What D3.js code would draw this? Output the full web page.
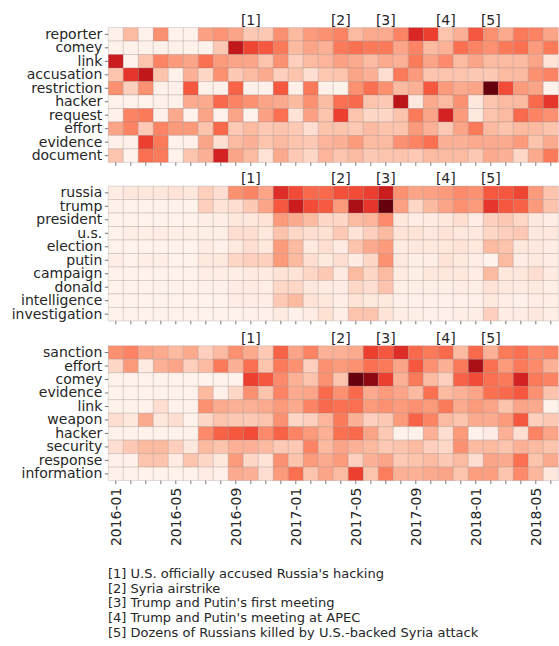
<!DOCTYPE html>
<html><head><meta charset="utf-8">
<script src="https://cdn.jsdelivr.net/npm/d3@7"></script>
<style>body{margin:0;background:#fff}svg{display:block}text{font-family:"DejaVu Sans",sans-serif;fill:#262626}</style>
</head><body><svg id="c" width="559" height="646"></svg>
<script>
const months = ["2016-01","2016-02","2016-03","2016-04","2016-05","2016-06","2016-07","2016-08","2016-09","2016-10","2016-11","2016-12",
"2017-01","2017-02","2017-03","2017-04","2017-05","2017-06","2017-07","2017-08","2017-09","2017-10","2017-11","2017-12",
"2018-01","2018-02","2018-03","2018-04","2018-05","2018-06"];
const tickLabels = ["2016-01","2016-05","2016-09","2017-01","2017-05","2017-09","2018-01","2018-05"];

const rows1 = ["reporter","comey","link","accusation","restriction","hacker","request","effort","evidence","document"];
const values1 = [
[0.03,0.25,0.02,0.38,0.02,0.02,0.33,0.37,0.32,0.2,0.2,0.38,0.25,0.35,0.38, 0.42,0.25,0.3,0.3,0.42,0.7,0.62,0.22,0.28,0.55,0.38,0.3,0.45,0.42,0.32],
[0.02,0.02,0.02,0.03,0.03,0.02,0.02,0.2,0.78,0.6,0.55,0.45,0.25,0.32,0.28, 0.45,0.48,0.45,0.45,0.32,0.42,0.25,0.28,0.48,0.42,0.38,0.45,0.48,0.35,0.45],
[0.75,0.02,0.22,0.42,0.35,0.32,0.48,0.35,0.32,0.32,0.22,0.38,0.18,0.25,0.27, 0.33,0.3,0.25,0.3,0.28,0.45,0.32,0.4,0.25,0.32,0.25,0.25,0.25,0.32,0.1],
[0.22,0.65,0.78,0.22,0.03,0.28,0.15,0.38,0.2,0.25,0.3,0.18,0.22,0.12,0.21, 0.22,0.32,0.28,0.12,0.45,0.35,0.22,0.22,0.22,0.2,0.2,0.25,0.25,0.38,0.42],
[0.38,0.18,0.38,0.03,0.03,0.55,0.03,0.03,0.52,0.03,0.03,0.55,0.03,0.45,0.03, 0.02,0.38,0.48,0.38,0.25,0.28,0.55,0.35,0.3,0.32,1.0,0.58,0.35,0.32,0.02],
[0.02,0.02,0.02,0.03,0.03,0.3,0.3,0.5,0.42,0.38,0.32,0.3,0.25,0.38,0.24, 0.48,0.5,0.22,0.2,0.8,0.08,0.3,0.25,0.38,0.08,0.22,0.25,0.25,0.5,0.65],
[0.03,0.42,0.45,0.03,0.3,0.02,0.32,0.02,0.32,0.02,0.33,0.48,0.1,0.33,0.22, 0.62,0.22,0.15,0.15,0.22,0.45,0.32,0.72,0.35,0.07,0.22,0.25,0.5,0.42,0.38],
[0.32,0.42,0.2,0.42,0.35,0.35,0.22,0.5,0.2,0.25,0.2,0.22,0.2,0.12,0.22, 0.22,0.2,0.25,0.22,0.22,0.35,0.28,0.2,0.32,0.45,0.25,0.22,0.25,0.25,0.22],
[0.03,0.03,0.62,0.45,0.02,0.03,0.32,0.12,0.25,0.28,0.22,0.25,0.22,0.2,0.27, 0.28,0.35,0.25,0.25,0.38,0.42,0.48,0.28,0.28,0.3,0.3,0.3,0.35,0.22,0.3],
[0.22,0.02,0.48,0.45,0.02,0.22,0.28,0.72,0.32,0.25,0.1,0.3,0.2,0.15,0.27, 0.22,0.25,0.2,0.22,0.22,0.2,0.25,0.25,0.25,0.2,0.3,0.28,0.15,0.3,0.45]
];

const rows2 = ["russia","trump","president","u.s.","election","putin","campaign","donald","intelligence","investigation"];
const values2 = [
[0.05,0.08,0.08,0.08,0.1,0.08,0.18,0.12,0.38,0.42,0.32,0.68,0.58,0.5,0.5, 0.57,0.58,0.62,0.75,0.38,0.32,0.33,0.35,0.4,0.38,0.55,0.55,0.6,0.35,0.22],
[0.03,0.02,0.02,0.02,0.02,0.02,0.18,0.1,0.12,0.2,0.32,0.55,0.75,0.58,0.54, 0.35,0.85,0.65,1.0,0.33,0.15,0.25,0.32,0.38,0.35,0.65,0.55,0.52,0.35,0.22],
[0.02,0.02,0.02,0.02,0.02,0.02,0.04,0.04,0.08,0.08,0.1,0.35,0.3,0.25,0.15, 0.15,0.25,0.27,0.4,0.08,0.05,0.06,0.08,0.12,0.05,0.18,0.2,0.15,0.08,0.05],
[0.02,0.04,0.04,0.05,0.04,0.04,0.04,0.04,0.12,0.12,0.08,0.22,0.15,0.12,0.11, 0.2,0.1,0.18,0.25,0.1,0.1,0.08,0.1,0.08,0.08,0.15,0.18,0.2,0.08,0.08],
[0.02,0.02,0.02,0.02,0.02,0.02,0.05,0.03,0.07,0.12,0.08,0.35,0.25,0.07,0.12, 0.06,0.22,0.3,0.35,0.06,0.08,0.08,0.08,0.1,0.08,0.25,0.22,0.08,0.08,0.05],
[0.04,0.02,0.04,0.04,0.02,0.02,0.07,0.07,0.15,0.18,0.18,0.35,0.25,0.12,0.07, 0.12,0.06,0.15,0.38,0.07,0.04,0.04,0.1,0.07,0.04,0.02,0.25,0.05,0.07,0.05],
[0.02,0.02,0.02,0.02,0.02,0.02,0.04,0.04,0.04,0.06,0.06,0.1,0.1,0.15,0.2, 0.06,0.25,0.15,0.25,0.06,0.04,0.08,0.08,0.08,0.05,0.25,0.08,0.08,0.12,0.06],
[0.02,0.02,0.02,0.02,0.02,0.02,0.03,0.03,0.05,0.06,0.04,0.15,0.15,0.08,0.06, 0.05,0.15,0.12,0.22,0.04,0.04,0.04,0.04,0.05,0.04,0.1,0.07,0.06,0.07,0.04],
[0.02,0.02,0.02,0.02,0.02,0.02,0.02,0.02,0.05,0.05,0.04,0.2,0.25,0.1,0.08, 0.04,0.1,0.07,0.07,0.03,0.03,0.03,0.03,0.03,0.03,0.07,0.04,0.03,0.05,0.04],
[0.02,0.02,0.02,0.02,0.02,0.02,0.02,0.02,0.02,0.03,0.03,0.06,0.03,0.05,0.11, 0.04,0.22,0.22,0.1,0.04,0.04,0.03,0.03,0.04,0.04,0.18,0.05,0.05,0.08,0.04]
];

const rows3 = ["sanction","effort","comey","evidence","link","weapon","hacker","security","response","information"];
const values3 = [
[0.38,0.42,0.32,0.3,0.25,0.3,0.18,0.25,0.38,0.3,0.2,0.52,0.32,0.42,0.28, 0.28,0.3,0.62,0.55,0.68,0.5,0.45,0.5,0.25,0.5,0.28,0.45,0.48,0.4,0.42],
[0.15,0.35,0.06,0.28,0.32,0.18,0.25,0.45,0.28,0.48,0.22,0.45,0.38,0.18,0.38, 0.35,0.38,0.48,0.45,0.32,0.55,0.38,0.28,0.45,0.85,0.48,0.35,0.45,0.4,0.28],
[0.02,0.02,0.02,0.02,0.02,0.02,0.02,0.02,0.02,0.62,0.55,0.4,0.28,0.22,0.38, 0.22,1.0,0.92,0.62,0.28,0.45,0.25,0.18,0.52,0.58,0.48,0.45,0.72,0.45,0.42],
[0.02,0.02,0.02,0.02,0.02,0.02,0.25,0.03,0.15,0.38,0.22,0.42,0.3,0.32,0.5, 0.38,0.5,0.3,0.35,0.32,0.25,0.48,0.25,0.28,0.32,0.48,0.5,0.55,0.38,0.22],
[0.02,0.02,0.02,0.12,0.02,0.02,0.38,0.3,0.28,0.28,0.3,0.35,0.3,0.42,0.5, 0.48,0.48,0.35,0.38,0.35,0.38,0.35,0.45,0.3,0.35,0.32,0.22,0.32,0.3,0.02],
[0.12,0.08,0.3,0.08,0.12,0.02,0.15,0.22,0.2,0.2,0.22,0.38,0.15,0.18,0.27, 0.45,0.28,0.18,0.2,0.35,0.52,0.42,0.25,0.22,0.3,0.3,0.35,0.55,0.18,0.2],
[0.02,0.02,0.02,0.02,0.02,0.02,0.4,0.52,0.55,0.58,0.4,0.52,0.42,0.35,0.28, 0.48,0.5,0.32,0.2,0.02,0.02,0.28,0.12,0.35,0.02,0.05,0.28,0.12,0.42,0.32],
[0.12,0.2,0.25,0.25,0.18,0.08,0.25,0.22,0.28,0.28,0.25,0.2,0.2,0.42,0.25, 0.32,0.28,0.25,0.2,0.22,0.25,0.18,0.15,0.38,0.25,0.25,0.22,0.28,0.25,0.22],
[0.03,0.03,0.22,0.22,0.06,0.22,0.15,0.08,0.35,0.15,0.1,0.38,0.22,0.35,0.3, 0.35,0.18,0.28,0.32,0.2,0.22,0.25,0.2,0.25,0.12,0.32,0.3,0.48,0.22,0.3],
[0.03,0.02,0.02,0.02,0.02,0.02,0.05,0.03,0.3,0.28,0.12,0.35,0.48,0.22,0.32, 0.25,0.62,0.22,0.44,0.28,0.28,0.3,0.32,0.22,0.34,0.34,0.22,0.4,0.26,0.08]
];

const eventLabels = ["[1]","[2]","[3]","[4]","[5]"];
const eventMonths = ["2016-10","2017-04","2017-07","2017-11","2018-02"];
const footnotes = [
"[1] U.S. officially accused Russia's hacking",
"[2] Syria airstrike",
"[3] Trump and Putin's first meeting",
"[4] Trump and Putin's meeting at APEC",
"[5] Dozens of Russians killed by U.S.-backed Syria attack"
];

const svg = d3.select("#c");
const x = d3.scaleBand().domain(months).range([108.3, 558.3]).padding(0);
const color = d3.scaleSequential(d3.interpolateReds).domain([0, 1]);
const panelH = 134.8;
const panels = [
  {rows: rows1, vals: values1, top: 27.6},
  {rows: rows2, vals: values2, top: 186.1},
  {rows: rows3, vals: values3, top: 345.8}
];

panels.forEach((p, pi) => {
  const y = d3.scaleBand().domain(p.rows).range([p.top, p.top + panelH]);
  const g = svg.append("g");
  const cells = [];
  p.vals.forEach((row, ri) => row.forEach((v, ci) => cells.push({r: p.rows[ri], m: months[ci], v})));
  g.selectAll("rect").data(cells).join("rect")
    .attr("x", d => x(d.m)).attr("y", d => y(d.r))
    .attr("width", x.bandwidth()).attr("height", y.bandwidth())
    .attr("fill", d => color(d.v))
    .attr("stroke", "rgba(140,130,130,0.28)").attr("stroke-width", 0.9);

  const ya = svg.append("g").attr("transform", `translate(${108.3},0)`)
    .call(d3.axisLeft(y).tickSize(3.5).tickPadding(2.5));
  ya.select(".domain").remove();
  ya.selectAll(".tick line").attr("stroke", "#555").attr("stroke-width", 0.8);
  ya.selectAll(".tick text").attr("font-size", 14).attr("font-family", "DejaVu Sans").attr("fill", "#262626");

  const xa = svg.append("g").attr("transform", `translate(0,${p.top + panelH})`)
    .call(d3.axisBottom(x).tickSize(3.5).tickFormat(""));
  xa.select(".domain").remove();
  xa.selectAll(".tick line").attr("stroke", "#555").attr("stroke-width", 0.8);

  if (pi === 2) {
    svg.append("g").selectAll("text").data(tickLabels).join("text")
      .attr("transform", d => `translate(${x(d) + x.bandwidth()/2 + 5},${p.top + panelH + 7})rotate(-90)`)
      .attr("text-anchor", "end").attr("font-size", 14).text(d => d);
  }

  svg.append("g").selectAll("text").data(eventLabels).join("text")
    .attr("x", (d, i) => x(eventMonths[i]) + x.bandwidth()/2)
    .attr("y", p.top - 3)
    .attr("text-anchor", "middle").attr("font-size", 14).text(d => d);
});

svg.append("g").selectAll("text").data(footnotes).join("text")
  .attr("x", 108).attr("y", (d, i) => 578 + i * 14.7)
  .attr("font-size", 13).text(d => d);
</script></body></html>
